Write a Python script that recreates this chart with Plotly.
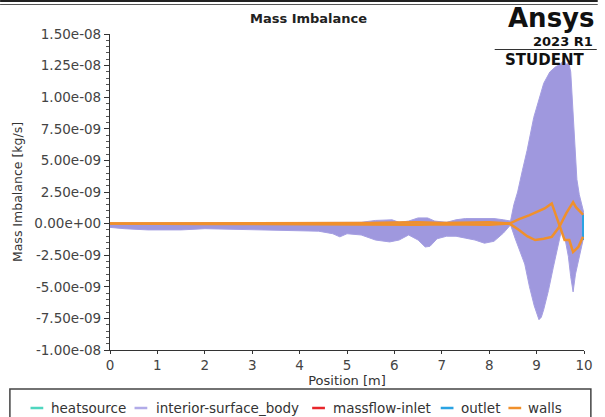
import numpy as np
import plotly.graph_objects as go

# Values are in units of 1e-9 kg/s
UNIT = 1e-9

interior_upper_x = [0.0, 0.5, 1.0, 2.0, 3.0, 4.0, 4.5, 4.8, 5.0, 5.3, 5.6, 5.8, 5.95, 6.1, 6.3, 6.5,
                    6.7, 6.85, 7.1, 7.3, 7.5, 7.7, 7.9, 8.1, 8.3, 8.45, 8.52, 8.6, 8.7, 8.8, 8.94,
                    9.05, 9.15, 9.28, 9.4, 9.5, 9.57, 9.63, 9.68, 9.72, 9.75, 9.79, 9.85, 9.9, 9.95, 10.0]
interior_upper_y = [0.05, 0.05, 0.05, 0.08, 0.05, 0.05, 0.05, 0.05, 0.1, 0.1, 0.25, 0.3, 0.3, 0.1, 0.2, 0.45,
                    0.45, 0.2, 0.1, 0.3, 0.4, 0.4, 0.4, 0.4, 0.3, 0.2, 1.5, 2.5, 4.2, 5.8, 8.4,
                    9.8, 11.1, 12.0, 12.4, 12.6, 12.9, 12.6, 12.7, 12.0, 10.0, 6.5, 3.5, 2.3, 1.5, 0.8]

interior_lower_x = [0.0, 0.3, 0.8, 1.5, 2.0, 2.5, 3.0, 3.5, 4.0, 4.4, 4.7, 4.85, 5.0, 5.3, 5.6, 5.9,
                    6.1, 6.3, 6.5, 6.65, 6.75, 6.9, 7.1, 7.3, 7.5, 7.7, 7.9, 8.1, 8.3, 8.45, 8.55,
                    8.65, 8.75, 8.85, 8.95, 9.05, 9.1, 9.15, 9.25, 9.35, 9.45, 9.52, 9.6, 9.67, 9.72,
                    9.77, 9.82, 9.9, 9.98]
interior_lower_y = [-0.3, -0.4, -0.5, -0.5, -0.4, -0.45, -0.5, -0.5, -0.55, -0.6, -0.8, -1.05, -0.8, -0.9, -1.3, -1.45,
                    -1.3, -0.9, -1.3, -1.85, -1.8, -1.2, -1.0, -1.0, -1.15, -1.3, -1.55, -1.4, -0.75, -0.1, -1.2,
                    -2.2, -3.2, -5.0, -6.5, -7.6, -7.4, -6.8, -5.3, -3.5, -1.8, -0.6, -1.2, -2.6, -4.2,
                    -5.4, -4.0, -2.6, -1.3]

walls_a_x = [0, 1, 2, 3, 4, 5, 5.5, 6, 6.5, 7, 7.5, 8, 8.43, 8.63, 8.84, 9.0, 9.17, 9.32, 9.42,
             9.52, 9.59, 9.69, 9.77, 9.88, 9.98]
walls_a_y = [0, 0, 0, 0, 0, 0.02, 0.05, 0.08, 0.1, 0.05, 0.1, 0.1, 0.0, 0.35, 0.65, 0.9, 1.2, 1.6, 0.5,
             -0.5, -1.3, -1.3, -2.25, -1.85, -1.05]
walls_b_x = [0, 1, 2, 3, 4, 5, 5.5, 6, 6.5, 7, 7.5, 8, 8.43, 8.63, 8.8, 8.97, 9.15, 9.32, 9.48,
             9.63, 9.77, 9.83, 9.98]
walls_b_y = [0, -0.03, -0.03, -0.03, -0.05, -0.05, -0.08, -0.05, -0.1, -0.05, -0.1, -0.1, 0.0, -0.5, -1.0, -1.3, -1.2, -1.05, -0.25,
             0.85, 1.7, 1.3, 0.7]

outlet_x = [10, 10]
outlet_y = [0.7, -1.3]
massflow_x = [0]
massflow_y = [0]
heatsource_x = [0]
heatsource_y = [0]

y_tick_vals = [-10, -7.5, -5, -2.5, 0, 2.5, 5, 7.5, 10, 12.5, 15]
y_tick_text = ["-1.00e-08", "-7.50e-09", "-5.00e-09", "-2.50e-09", "0.00e+00", "2.50e-09",
               "5.00e-09", "7.50e-09", "1.00e-08", "1.25e-08", "1.50e-08"]
x_tick_vals = [0, 1, 2, 3, 4, 5, 6, 7, 8, 9, 10]

legend_names = ["heatsource", "interior-surface_body", "massflow-inlet", "outlet", "walls"]
legend_colors = ["#4fd6bf", "#b1abe8", "#e8262b", "#2aa3e3", "#f0902c"]

def s(v):
    return np.array(v, dtype=float) * UNIT

FONT = "DejaVu Sans"
fig = go.Figure()

fig.add_trace(go.Scatter(x=heatsource_x, y=s(heatsource_y), mode="lines", name=legend_names[0],
                         line=dict(color=legend_colors[0], width=2)))
fig.add_trace(go.Scatter(x=interior_lower_x, y=s(interior_lower_y), mode="lines",
                         name=legend_names[1], legendgroup="int",
                         line=dict(color="#a59fe2", width=1)))
fig.add_trace(go.Scatter(x=interior_upper_x, y=s(interior_upper_y), mode="lines",
                         name=legend_names[1], legendgroup="int", showlegend=False,
                         line=dict(color="#a59fe2", width=1), fill="tonexty", fillcolor="#9f98de"))
fig.add_trace(go.Scatter(x=massflow_x, y=s(massflow_y), mode="lines", name=legend_names[2],
                         line=dict(color=legend_colors[2], width=2)))
fig.add_trace(go.Scatter(x=outlet_x, y=s(outlet_y), mode="lines", name=legend_names[3],
                         line=dict(color=legend_colors[3], width=4)))
walls_x = list(walls_a_x) + [None] + list(walls_b_x)
walls_y = list(s(walls_a_y)) + [None] + list(s(walls_b_y))
fig.add_trace(go.Scatter(x=walls_x, y=walls_y, mode="lines", name=legend_names[4],
                         line=dict(color=legend_colors[4], width=2.5)))

L, R, T, B = 110, 12, 34, 67
W, H = 605, 417
pw, ph = W - L - R, H - T - B

def px(p):
    return (p - L) / pw

def py(p):
    return (H - B - p) / ph

fig.update_layout(
    width=W, height=H,
    margin=dict(l=L, r=R, t=T, b=B, pad=0),
    paper_bgcolor="white", plot_bgcolor="white",
    font=dict(family=FONT, size=13, color="#3a3a3a"),
    title=dict(text="<b>Mass Imbalance</b>", x=0.51, xanchor="center", y=1 - 18 / H, yanchor="middle",
               font=dict(family=FONT, size=13, color="#222")),
    xaxis=dict(range=[0, 10], tickvals=x_tick_vals, showgrid=False, zeroline=False,
               showline=True, linecolor="#333", linewidth=1.2, ticks="outside", ticklen=3,
               tickcolor="#333", tickfont=dict(size=13.5, color="#444"),
               title=dict(text="Position [m]", font=dict(size=13, color="#333"), standoff=2)),
    yaxis=dict(range=[-10 * UNIT, 15 * UNIT], tickvals=s(y_tick_vals), ticktext=y_tick_text,
               showgrid=False, zeroline=False, showline=True, linecolor="#333", linewidth=1.2,
               ticks="outside", ticklen=5, tickcolor="#333", tickfont=dict(size=13.5, color="#444"),
               minor=dict(tickmode="linear", tick0=0, dtick=0.5 * UNIT, ticks="outside",
                          ticklen=3, tickcolor="#555"),
               title=dict(text="Mass Imbalance [kg/s]", font=dict(size=12.5, color="#333"), standoff=8)),
    showlegend=False,
)

# Legend drawn as a framed row of short line samples + labels (as in the Ansys export)
fig.add_shape(type="rect", xref="paper", yref="paper", x0=px(8), x1=px(600), y0=py(389), y1=py(425),
              line=dict(color="#444", width=1.5), fillcolor="white", layer="below")
legend_dash_x = [29, 135, 316, 447, 516]
legend_text_x = [48, 155, 335, 466, 534]
for name, col, dx, tx in zip(legend_names, legend_colors, legend_dash_x, legend_text_x):
    fig.add_shape(type="line", xref="paper", yref="paper", x0=px(dx), x1=px(dx + 13),
                  y0=py(408), y1=py(408), line=dict(color=col, width=2.5))
    fig.add_annotation(text=name, xref="paper", yref="paper", x=px(tx), y=py(408),
                       xanchor="left", yanchor="middle", showarrow=False,
                       font=dict(family=FONT, size=13.5, color="#333"))

# Ansys branding
fig.add_annotation(text="<b>Ansys</b>", xref="paper", yref="paper", x=px(606), y=py(18),
                   xanchor="right", yanchor="middle", showarrow=False,
                   font=dict(family=FONT, size=26, color="#111"))
fig.add_annotation(text="<b>2023 R1</b>", xref="paper", yref="paper", x=px(604), y=py(41),
                   xanchor="right", yanchor="middle", showarrow=False,
                   font=dict(family=FONT, size=13, color="#111"))
fig.add_annotation(text="<b>STUDENT</b>", xref="paper", yref="paper", x=px(553), y=py(60),
                   xanchor="center", yanchor="middle", showarrow=False,
                   font=dict(family=FONT, size=15, color="#111"))
fig.add_shape(type="line", xref="paper", yref="paper", x0=px(502), x1=px(606), y0=py(49.5), y1=py(49.5),
              line=dict(color="#333", width=1.2))
# top frame lines
fig.add_shape(type="line", xref="paper", yref="paper", x0=px(-2), x1=px(607), y0=py(1), y1=py(1),
              line=dict(color="#222", width=2))
fig.add_shape(type="line", xref="paper", yref="paper", x0=px(-2), x1=px(607), y0=py(4.5), y1=py(4.5),
              line=dict(color="#555", width=1))

fig.write_html("out.html", config={"displayModeBar": False})
